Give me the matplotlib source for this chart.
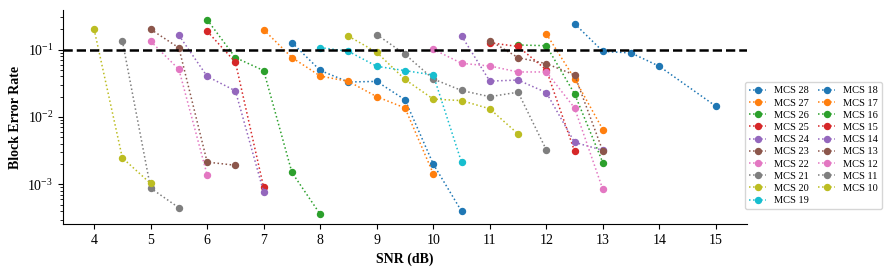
import matplotlib
matplotlib.use('Agg')
import matplotlib.pyplot as plt

plt.rcParams['font.family'] = ['Liberation Serif', 'DejaVu Serif']
plt.rcParams['mathtext.fontset'] = 'stix'

# MCS index -> (SNR points, BLER points)
mcs_labels = [28, 27, 26, 25, 24, 23, 22, 21, 20, 19, 18, 17, 16, 15, 14, 13, 12, 11, 10]

snr = {
    28: [12.5, 13, 13.5, 14, 15],
    27: [12, 12.5, 13],
    26: [11.5, 12, 12.5, 13],
    25: [11, 11.5, 12, 12.5],
    24: [10.5, 11, 11.5, 12, 12.5, 13],
    23: [11, 11.5, 12, 12.5, 13],
    22: [10, 10.5, 11, 11.5, 12, 12.5, 13],
    21: [9, 9.5, 10, 10.5, 11, 11.5, 12],
    20: [8.5, 9, 9.5, 10, 10.5, 11, 11.5],
    19: [8, 8.5, 9, 9.5, 10, 10.5],
    18: [7.5, 8, 8.5, 9, 9.5, 10, 10.5],
    17: [7, 7.5, 8, 8.5, 9, 9.5, 10],
    16: [6, 6.5, 7, 7.5, 8],
    15: [6, 6.5, 7],
    14: [5.5, 6, 6.5, 7],
    13: [5, 5.5, 6, 6.5],
    12: [5, 5.5, 6],
    11: [4.5, 5, 5.5],
    10: [4, 4.5, 5],
}

bler = {
    28: [0.242, 0.094, 0.089, 0.0564, 0.0144],
    27: [0.171, 0.037, 0.0065],
    26: [0.117, 0.114, 0.022, 0.0021],
    25: [0.126, 0.111, 0.050, 0.0031],
    24: [0.16, 0.034, 0.0353, 0.023, 0.0042, 0.0032],
    23: [0.136, 0.076, 0.0618, 0.042, 0.0031],
    22: [0.101, 0.0625, 0.057, 0.0465, 0.0465, 0.0136, 0.00084],
    21: [0.167, 0.085, 0.0366, 0.0247, 0.020, 0.0233, 0.00325],
    20: [0.158, 0.091, 0.036, 0.0184, 0.0175, 0.0132, 0.0056],
    19: [0.107, 0.094, 0.0564, 0.0487, 0.042, 0.00213],
    18: [0.127, 0.049, 0.033, 0.0337, 0.018, 0.002, 0.0004],
    17: [0.197, 0.076, 0.0405, 0.0337, 0.020, 0.0136, 0.00144],
    16: [0.277, 0.076, 0.0487, 0.0015, 0.00036],
    15: [0.187, 0.065, 0.0009],
    14: [0.163, 0.040, 0.0244, 0.00077],
    13: [0.2, 0.106, 0.00214, 0.00192],
    12: [0.133, 0.0508, 0.00138],
    11: [0.135, 0.00088, 0.00045],
    10: [0.2, 0.00247, 0.00103],
}

target_bler = 0.1
xticks = list(range(4, 16))

fig = plt.figure(figsize=(8.9, 2.75), dpi=100)
ax = fig.add_axes([63 / 890, 1 - 224 / 275, (747 - 63) / 890, (224 - 10) / 275])

colors = plt.rcParams['axes.prop_cycle'].by_key()['color']
for i, m in enumerate(mcs_labels):
    ax.plot(snr[m], bler[m], linestyle=':', linewidth=1.1, marker='o',
            markersize=4.3, color=colors[i % 10], label=f'MCS {m}')

ax.axhline(target_bler, color='black', linestyle='--', linewidth=1.8)

ax.set_yscale('log')
ax.set_xticks(xticks)
ax.set_xlabel('SNR (dB)', fontsize=10, fontweight='bold')
ax.set_ylabel('Block Error Rate', fontsize=10, fontweight='bold')
ax.tick_params(labelsize=10)
ax.spines['top'].set_visible(False)
ax.spines['right'].set_visible(False)

fig.legend(loc='upper left', bbox_to_anchor=(745 / 890, 1 - 82 / 275),
           borderaxespad=0, ncol=2, fontsize=7.5, columnspacing=0.9,
           handlelength=1.6, labelspacing=0.28, borderpad=0.4)

fig.savefig('out.png', dpi=100)
